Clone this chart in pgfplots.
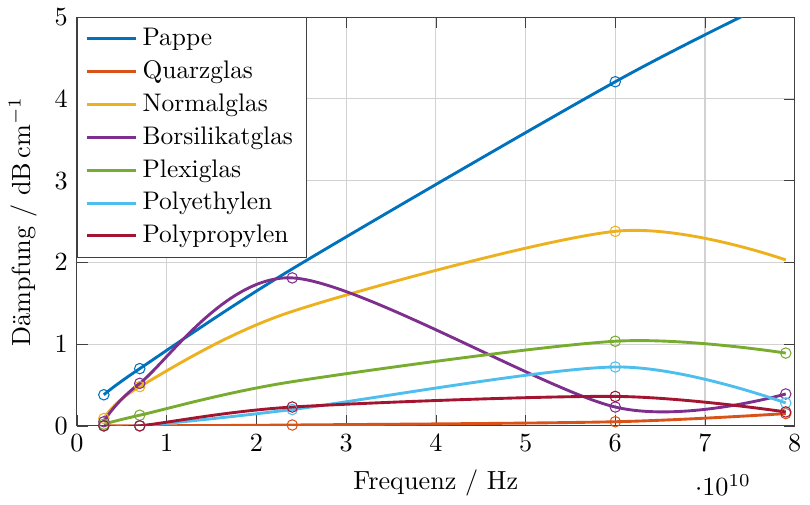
\documentclass[border=0pt]{standalone}
\usepackage{pgfplots}
\pgfplotsset{compat=1.18}
\definecolor{c1}{HTML}{0072BD}
\definecolor{c2}{HTML}{D95319}
\definecolor{c3}{HTML}{EDB120}
\definecolor{c4}{HTML}{7E2F8E}
\definecolor{c5}{HTML}{77AC30}
\definecolor{c6}{HTML}{4DBEEE}
\definecolor{c7}{HTML}{A2142F}
\pgfplotsset{
    kurve/.style={line width=1.1pt, smooth, mark=o, mark size=2pt, mark options={line width=0.4pt}},
}
\begin{document}
\begin{tikzpicture}
\begin{axis}[
    scale only axis,
    width=274pt,
    height=156pt,
    xmin=0, xmax=8e10,
    ymin=0, ymax=5,
    xtick={0,1e10,2e10,3e10,4e10,5e10,6e10,7e10,8e10},
    ytick={0,1,2,3,4,5},
    grid=major,
    major grid style={gray!35},
    axis line style={black!75},
    tick style={black!75},
    xlabel={Frequenz / Hz},
    ylabel={Dämpfung / $\mathrm{dB\,cm^{-1}}$},
    legend cell align=left,
    legend style={at={(0,1)}, anchor=north west, draw=black!75, font=\fontsize{9.7}{11.8}\selectfont, row sep=0.3pt},
    legend image code/.code={\draw[#1, mark=none] (0cm,0cm) -- (0.66cm,0cm);},
]
\addplot[kurve, c1, mark indices={1,2,4}] coordinates {(3e9,0.38) (7e9,0.70) (2.4e10,1.92) (6e10,4.21) (7.9e10,5.27)};
\addlegendentry{Pappe}
\addplot[kurve, c2] coordinates {(3e9,0.0) (7e9,0.0) (2.4e10,0.01) (6e10,0.05) (7.9e10,0.15)};
\addlegendentry{Quarzglas}
\addplot[kurve, c3, mark indices={1,2,4}] coordinates {(3e9,0.09) (7e9,0.48) (2.4e10,1.40) (6e10,2.38) (7.9e10,2.03)};
\addlegendentry{Normalglas}
\addplot[kurve, c4] coordinates {(3e9,0.05) (7e9,0.52) (2.4e10,1.81) (6e10,0.23) (7.9e10,0.39)};
\addlegendentry{Borsilikatglas}
\addplot[kurve, c5, mark indices={1,2,4,5}] coordinates {(3e9,0.02) (7e9,0.13) (2.4e10,0.54) (6e10,1.035) (7.9e10,0.89)};
\addlegendentry{Plexiglas}
\addplot[kurve, c6] coordinates {(3e9,0.0) (7e9,0.0) (2.4e10,0.20) (6e10,0.72) (7.9e10,0.28)};
\addlegendentry{Polyethylen}
\addplot[kurve, c7] coordinates {(3e9,0.0) (7e9,0.0) (2.4e10,0.23) (6e10,0.36) (7.9e10,0.17)};
\addlegendentry{Polypropylen}
\end{axis}
\end{tikzpicture}
\end{document}
